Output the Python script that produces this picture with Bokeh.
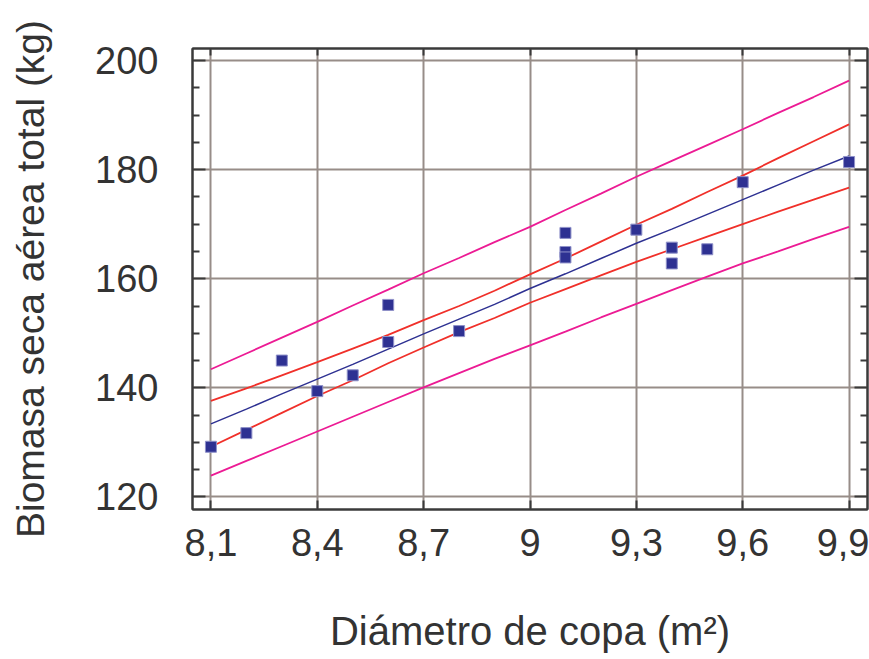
from bokeh.plotting import figure
from bokeh.models import LinearAxis, FixedTicker, CustomJSTickFormatter
from bokeh.embed import file_html
from bokeh.resources import INLINE

# ---- data ----
x_obs = [8.1, 8.2, 8.3, 8.4, 8.5, 8.6, 8.6, 8.8, 9.1, 9.1, 9.1, 9.3, 9.4, 9.4, 9.5, 9.6, 9.9]
y_obs = [129.2, 131.7, 145.0, 139.4, 142.3, 155.2, 148.4, 150.4, 168.4, 164.9, 163.9,
         169.0, 165.7, 162.8, 165.4, 177.7, 181.4]

x_line = [8.1, 8.2, 8.3, 8.4, 8.5, 8.6, 8.7, 8.8, 8.9, 9.0,
          9.1, 9.2, 9.3, 9.4, 9.5, 9.6, 9.7, 9.8, 9.9]
fit = [133.4, 136.1, 138.9, 141.6, 144.3, 147.1, 149.9, 152.6, 155.3, 158.2,
       160.9, 163.7, 166.5, 169.1, 171.8, 174.5, 177.2, 179.9, 182.5]
ci_upper = [137.6, 139.9, 142.3, 144.7, 147.2, 149.7, 152.4, 155.0, 157.8, 160.8,
            163.7, 166.8, 169.9, 172.8, 175.9, 178.9, 182.1, 185.2, 188.3]
ci_lower = [129.2, 132.3, 135.4, 138.5, 141.4, 144.5, 147.4, 150.2, 152.8, 155.6,
            158.1, 160.6, 163.1, 165.4, 167.7, 170.0, 172.3, 174.5, 176.7]
pi_upper = [143.4, 146.3, 149.2, 152.1, 155.1, 158.0, 161.0, 163.8, 166.7, 169.5,
            172.6, 175.6, 178.7, 181.6, 184.5, 187.4, 190.4, 193.3, 196.3]
pi_lower = [123.9, 126.6, 129.3, 132.0, 134.7, 137.4, 140.1, 142.7, 145.3, 147.8,
            150.3, 152.9, 155.4, 157.9, 160.4, 162.8, 165.0, 167.3, 169.5]

x_ticks = [8.1, 8.4, 8.7, 9.0, 9.3, 9.6, 9.9]
y_ticks = [120, 140, 160, 180, 200]
y_minor = [115, 125, 130, 135, 145, 150, 155, 165, 170, 175, 185, 190, 195, 205]

x_title = "Diámetro de copa (m²)"
y_title = "Biomasa seca aérea total (kg)"

FONT = "Liberation Sans"
TXT = "#333333"
FRAME = "#3a3a3a"
GRID = "#978d88"

p = figure(width=869, height=659, x_range=(8.048, 9.952), y_range=(117.7, 202.2),
           output_backend="svg", toolbar_location=None,
           min_border_left=192, min_border_right=2, min_border_top=48, min_border_bottom=150)
p.outline_line_color = FRAME
p.outline_line_width = 2
p.background_fill_color = "white"
p.border_fill_color = "white"

xt = FixedTicker(ticks=x_ticks, minor_ticks=[])
yt = FixedTicker(ticks=y_ticks, minor_ticks=y_minor)
fmt = CustomJSTickFormatter(code="var s = (Math.round(tick*10)/10).toString(); return s.replace('.', ',');")
blank = CustomJSTickFormatter(code="return '';")

for ax in p.xaxis:
    ax.ticker = xt
    ax.formatter = fmt
for ax in p.yaxis:
    ax.ticker = yt

def style(ax, labels=True):
    ax.axis_line_color = FRAME
    ax.axis_line_width = 2
    ax.major_tick_line_color = FRAME
    ax.major_tick_line_width = 2
    ax.minor_tick_line_color = FRAME
    ax.minor_tick_line_width = 2
    ax.major_tick_out = 0
    ax.minor_tick_out = 0
    ax.minor_tick_in = 7
    if labels:
        ax.major_label_text_font = FONT
        ax.major_label_text_font_size = "38px"
        ax.major_label_text_color = TXT
        ax.axis_label_text_font = FONT
        ax.axis_label_text_font_size = "39px"
        ax.axis_label_text_font_style = "normal"
        ax.axis_label_text_color = TXT
    else:
        ax.formatter = blank
        ax.major_label_text_font_size = "1px"
        ax.major_label_standoff = 0

style(p.xaxis[0])
p.xaxis[0].major_tick_in = 9
p.xaxis[0].major_label_standoff = 19
p.xaxis[0].axis_label = x_title
p.xaxis[0].axis_label_text_font_size = "40px"
p.xaxis[0].axis_label_standoff = 50

style(p.yaxis[0])
p.yaxis[0].major_tick_in = 13
p.yaxis[0].major_label_standoff = 34
p.yaxis[0].axis_label = y_title
p.yaxis[0].axis_label_standoff = 40

top = LinearAxis(ticker=xt)
style(top, labels=False)
top.major_tick_in = 7
p.add_layout(top, "above")

right = LinearAxis(ticker=yt)
style(right, labels=False)
right.major_tick_in = 13
p.add_layout(right, "right")

p.xgrid.grid_line_color = GRID
p.xgrid.grid_line_width = 2
p.xgrid.ticker = xt
p.ygrid.grid_line_color = GRID
p.ygrid.grid_line_width = 2
p.ygrid.ticker = FixedTicker(ticks=y_ticks)

MAG = "#ec1b94"
RED = "#f0302a"
BLUE = "#2e3192"

p.line(x_line, pi_upper, line_color=MAG, line_width=1.8)
p.line(x_line, pi_lower, line_color=MAG, line_width=1.8)
p.line(x_line, ci_upper, line_color=RED, line_width=1.8)
p.line(x_line, ci_lower, line_color=RED, line_width=1.8)
p.line(x_line, fit, line_color=BLUE, line_width=1.5)
p.scatter(x_obs, y_obs, marker="square", size=11, fill_color=BLUE,
          line_color="#8f91c9", line_width=1)

open("out.html", "w").write(file_html(p, INLINE))
